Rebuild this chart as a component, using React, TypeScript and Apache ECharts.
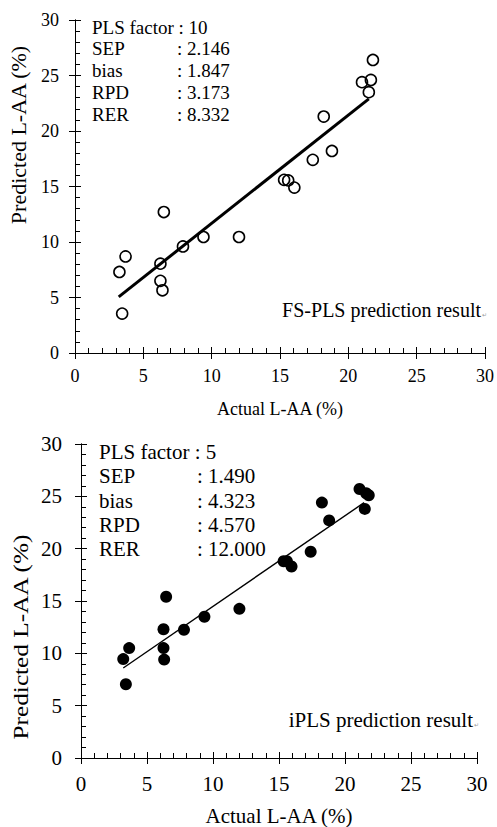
import React, { useEffect, useRef } from "react";
import * as echarts from "echarts";

// ---- Data ----
const axisTicks = [0, 5, 10, 15, 20, 25, 30];

// FS-PLS (top panel): [actual, predicted]
const fsActual = [21.8, 21.0, 21.65, 21.5, 18.2, 18.8, 17.4, 15.3, 15.6, 16.05, 6.5, 9.4, 12.0, 7.9, 3.7, 6.25, 3.25, 6.25, 6.4, 3.45];
const fsPredicted = [26.4, 24.4, 24.6, 23.5, 21.3, 18.2, 17.4, 15.6, 15.55, 14.9, 12.7, 10.45, 10.45, 9.6, 8.7, 8.05, 7.3, 6.5, 5.65, 3.55];
const fsFitX = [3.2, 21.5];
const fsFitY = [5.05, 22.9];

// iPLS (bottom panel): [actual, predicted]
const iActual = [21.1, 21.6, 21.8, 21.5, 18.25, 18.8, 17.4, 15.35, 15.6, 15.95, 6.45, 12.0, 9.35, 7.8, 6.25, 6.25, 3.65, 3.2, 6.3, 3.4];
const iPredicted = [25.7, 25.3, 25.1, 23.8, 24.4, 22.7, 19.7, 18.8, 18.8, 18.3, 15.4, 14.25, 13.5, 12.25, 12.3, 10.5, 10.5, 9.45, 9.4, 7.05];
const iFitX = [3.2, 21.45];
const iFitY = [8.6, 24.4];

const fsStats = [
  ["SEP", ": 2.146"],
  ["bias", ": 1.847"],
  ["RPD", ": 3.173"],
  ["RER", ": 8.332"],
];
const iStats = [
  ["SEP", ": 1.490"],
  ["bias", ": 4.323"],
  ["RPD", ": 4.570"],
  ["RER", ": 12.000"],
];

const FONT = "Liberation Serif, Times New Roman, serif";

function zip(a: number[], b: number[]) {
  return a.map((v, i) => [v, b[i]]);
}

function axisPair(kind: "x" | "y", grid: number, fontSize: number, margin: number, name?: string, nameGap?: number) {
  const base = {
    type: "value",
    gridIndex: grid,
    position: kind === "x" ? "bottom" : "left",
    offset: 0,
    min: axisTicks[0],
    max: axisTicks[axisTicks.length - 1],
    interval: 5,
    splitLine: { show: false },
    axisLine: { show: true, onZero: false, lineStyle: { color: "#000", width: 1 } },
  };
  const inner = {
    ...base,
    axisTick: { show: true, inside: true, length: 6, lineStyle: { color: "#000", width: 1 } },
    minorTick: { show: true, splitNumber: 5, length: 5, lineStyle: { color: "#000", width: 1 } },
    axisLabel: { show: false },
  };
  const outer: any = {
    ...base,
    axisTick: { show: true, inside: false, length: 6, lineStyle: { color: "#000", width: 1 } },
    minorTick: { show: false },
    axisLabel: { show: true, margin, color: "#000", fontFamily: FONT, fontSize },
  };
  if (name) {
    outer.name = name;
    outer.nameLocation = "middle";
    outer.nameGap = nameGap;
    outer.nameTextStyle = { color: "#000", fontFamily: FONT, fontSize: fontSize };
  }
  return [inner, outer];
}

function statTexts(
  stats: string[][],
  factor: string,
  x0: number,
  colonX: number,
  y0: number,
  dy: number,
  fontSize: number
) {
  const els: any[] = [
    {
      type: "text",
      x: x0,
      y: y0,
      style: { text: factor, fontFamily: FONT, fontSize, fill: "#000", textVerticalAlign: "middle" },
    },
  ];
  stats.forEach((s, i) => {
    els.push({
      type: "text",
      x: x0,
      y: y0 + dy * (i + 1),
      style: { text: s[0], fontFamily: FONT, fontSize, fill: "#000", textVerticalAlign: "middle" },
    });
    els.push({
      type: "text",
      x: colonX,
      y: y0 + dy * (i + 1),
      style: { text: s[1], fontFamily: FONT, fontSize, fill: "#000", textVerticalAlign: "middle" },
    });
  });
  return els;
}

export default function App() {
  const ref = useRef<HTMLDivElement>(null);

  useEffect(() => {
    if (!ref.current) return;
    const chart = echarts.init(ref.current, undefined, { renderer: "svg" });

    const [x0i, x0o] = axisPair("x", 0, 18, 14, "Actual L-AA (%)", 47);
    const [y0i, y0o] = axisPair("y", 0, 18, 16);
    const [x1i, x1o] = axisPair("x", 1, 21, 15, "Actual L-AA (%)", 47);
    const [y1i, y1o] = axisPair("y", 1, 21, 19);

    const option: any = {
      animation: false,
      backgroundColor: "#fff",
      textStyle: { fontFamily: FONT },
      grid: [
        { left: 75, top: 20, width: 411, height: 333 },
        { left: 81, top: 444, width: 396, height: 318 },
      ],
      xAxis: [x0i, x0o, x1i, x1o],
      yAxis: [y0i, y0o, y1i, y1o],
      series: [
        {
          type: "line",
          xAxisIndex: 0,
          yAxisIndex: 0,
          data: zip(fsFitX, fsFitY),
          symbol: "none",
          lineStyle: { color: "#000", width: 3 },
          silent: true,
        },
        {
          type: "scatter",
          xAxisIndex: 0,
          yAxisIndex: 0,
          data: zip(fsActual, fsPredicted),
          symbol: "circle",
          symbolSize: 11,
          itemStyle: { color: "rgba(255,255,255,0)", borderColor: "#000", borderWidth: 1.6, opacity: 1 },
        },
        {
          type: "line",
          xAxisIndex: 2,
          yAxisIndex: 2,
          data: zip(iFitX, iFitY),
          symbol: "none",
          lineStyle: { color: "#000", width: 1.4 },
          silent: true,
        },
        {
          type: "scatter",
          xAxisIndex: 2,
          yAxisIndex: 2,
          data: zip(iActual, iPredicted),
          symbol: "circle",
          symbolSize: 12,
          itemStyle: { color: "#000", opacity: 1 },
        },
      ],
      graphic: [
        ...statTexts(fsStats, "PLS factor : 10", 92, 177, 27, 21.8, 19),
        ...statTexts(iStats, "PLS factor : 5", 99, 197, 452, 24.3, 21),
        {
          type: "text",
          x: 481,
          y: 310,
          style: { text: "FS-PLS prediction result", fontFamily: FONT, fontSize: 20, fill: "#000", textAlign: "right", textVerticalAlign: "middle" },
        },
        {
          type: "text",
          x: 482,
          y: 315,
          style: { text: "↵", fontFamily: FONT, fontSize: 6, fill: "#999", textAlign: "left", textVerticalAlign: "middle" },
        },
        {
          type: "text",
          x: 473,
          y: 720,
          style: { text: "iPLS prediction result", fontFamily: FONT, fontSize: 21, fill: "#000", textAlign: "right", textVerticalAlign: "middle" },
        },
        {
          type: "text",
          x: 474,
          y: 725,
          style: { text: "↵", fontFamily: FONT, fontSize: 6, fill: "#999", textAlign: "left", textVerticalAlign: "middle" },
        },
        {
          type: "text",
          x: 19,
          y: 135,
          rotation: Math.PI / 2,
          scaleX: 1.1,
          style: { text: "Predicted L-AA (%)", fontFamily: FONT, fontSize: 20, fill: "#000", textAlign: "center", textVerticalAlign: "middle" },
        },
        {
          type: "text",
          x: 21,
          y: 637,
          rotation: Math.PI / 2,
          scaleX: 1.15,
          style: { text: "Predicted L-AA (%)", fontFamily: FONT, fontSize: 22, fill: "#000", textAlign: "center", textVerticalAlign: "middle" },
        },
      ],
    };

    chart.setOption(option);
    return () => chart.dispose();
  }, []);

  return <div ref={ref} style={{ width: 497, height: 827, position: "absolute", left: 0, top: 0 }} />;
}
